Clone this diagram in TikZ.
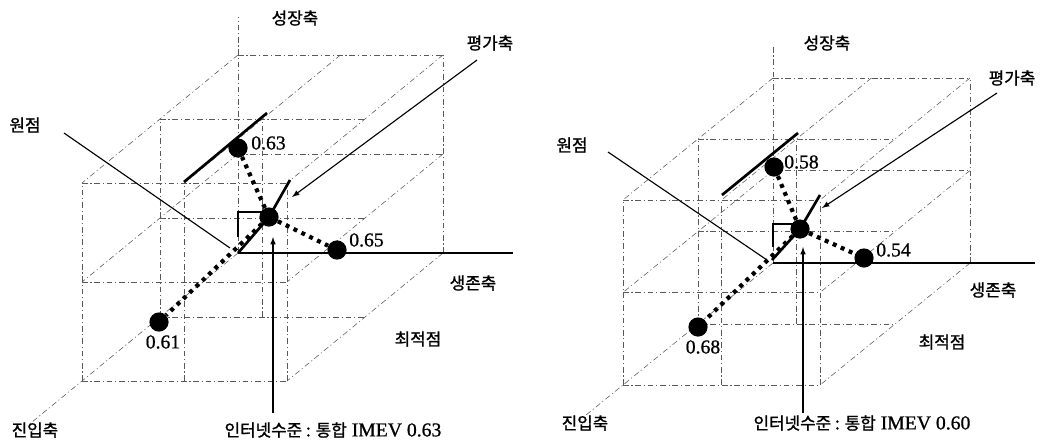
\documentclass[tikz,border=0pt]{standalone}
\usepackage{fontspec}
\setmainfont{Liberation Serif}
\newfontfamily\krfont[FakeBold=1.2]{Noto Sans CJK KR}
\newfontfamily\numfont[FakeBold=0.8]{Liberation Serif}
\tikzset{
  gridline/.style={line width=0.4pt, dash pattern=on 4pt off 2pt on 0.8pt off 2pt, color=black!65},
  axisline/.style={line width=0.9pt},
  thickline/.style={line width=1.9pt},
  dotline/.style={line width=3pt, dash pattern=on 2.8pt off 3.4pt},
  noteline/.style={line width=0.8pt},
  dotnode/.style={circle, fill=black, inner sep=0pt, minimum size=0.48cm},
  numlabel/.style={inner sep=0pt, font=\numfont\fontsize{14}{16}\selectfont},
  krlabel/.style={inner sep=0pt, font=\krfont\fontsize{12}{14}\selectfont},
  leftcube/.style={shift={(238,253)}, x={(5.125cm,0cm)}, y={(0cm,4.95cm)}, z={(-3.9cm,-3.2cm)}},
  rightcube/.style={shift={(773,263)}, x={(4.925cm,0cm)}, y={(0cm,4.625cm)}, z={(-3.75cm,-3.05cm)}},
}
\newcommand{\cubegrid}[3]{%
  \foreach \gy in {0,0.5,1}
    \foreach \gz in {0,0.5,1}
      \draw[gridline] (0,\gy,\gz) -- (1,\gy,\gz);
  \foreach \gx/\gz in {1/0,0/0.5,0.5/0.5,0/1,0.5/1,1/1}
    \draw[gridline] (\gx,0,\gz) -- (\gx,1,\gz);
  \foreach \gx/\gy in {1/0,0/0.5,1/0.5,0/1,0.5/1,1/1}
    \draw[gridline] (\gx,\gy,0) -- (\gx,\gy,1);
  \draw[gridline] (0,0,0) -- (0,#1,0);
  \draw[gridline] (0,0,0) -- (0,0,#3);
  \draw[axisline] (0,0,0) -- (#2,0,0);
}
\begin{document}
\begin{tikzpicture}[x=0.025cm,y=-0.025cm]
	\useasboundingbox (0,0) rectangle (1046,443);

	% left cube
	\begin{scope}[leftcube]
		\cubegrid{1.19}{1.34}{1.35}
	\end{scope}

	\node[dotnode] (Lg) at (238,148) {};
	\node[dotnode] (Lc) at (269,217) {};
	\node[dotnode] (Ls) at (337,250) {};
	\node[dotnode] (Le) at (159,322) {};
	\coordinate (LO) at (238,253);
	\coordinate (Lopt) at (290,180);
	\coordinate (Lga) at (184,182);
	\coordinate (Lgb) at (267,113);

	\node[krlabel] (Lgrow) at (295,18) {성장축};
	\node[krlabel] (Leval) at (490,43) {평가축};
	\node[krlabel] (Lorig) at (25,125) {원점};
	\node[krlabel] (Lsurv) at (473,283) {생존축};
	\node[krlabel] (Lbest) at (418,339) {최적점};
	\node[krlabel] (Lentry) at (35,430) {진입축};
	\node[numlabel,anchor=west] (Lgv) at (251,143) {0.63};
	\node[numlabel,anchor=west] (Lsv) at (349,240) {0.65};
	\node[numlabel] (Lev) at (163,342) {0.61};
	\node[numlabel] (Linet) at (333,430) {{\krfont\fontsize{12}{14}\selectfont 인터넷수준 : 통합} IMEV 0.63};

	\draw[thickline] (Lga) -- (Lgb);
	\draw[thickline] (LO) -- (Lc.center) -- (Lopt);
	\draw[dotline] (Lc) -- (Lg);
	\draw[dotline] (Lc) -- (Ls);
	\draw[dotline] (Lc) -- (Le);
	\draw[noteline] (267,212) -- (238,212) -- (238,237);

	\coordinate (Lorigs) at (64,133);
	\coordinate (Lorige) at (230,248);
	\coordinate (Levals) at (477,60);
	\coordinate (Levale) at (292,197);
	\coordinate (Linets) at (273,413);
	\coordinate (Linete) at (273,237);
	\draw[noteline] (Lorigs) -- (Lorige);
	\draw[noteline,->,>=latex] (Levals) -- (Levale);
	\draw[noteline,->,>=latex] (Linets) -- (Linete);

	% right cube
	\begin{scope}[rightcube]
		\cubegrid{1.18}{1.33}{1.29}
	\end{scope}

	\node[dotnode] (Rg) at (774,167) {};
	\node[dotnode] (Rc) at (800,229) {};
	\node[dotnode] (Rs) at (864,258) {};
	\node[dotnode] (Re) at (698,327) {};
	\coordinate (RO) at (772,260);
	\coordinate (Ropt) at (820,195);
	\coordinate (Rga) at (722,195);
	\coordinate (Rgb) at (798,133);

	\node[krlabel] (Rgrow) at (827,43) {성장축};
	\node[krlabel] (Reval) at (1012,78) {평가축};
	\node[krlabel] (Rorig) at (572,145) {원점};
	\node[krlabel] (Rsurv) at (993,290) {생존축};
	\node[krlabel] (Rbest) at (942,342) {최적점};
	\node[krlabel] (Rentry) at (585,423) {진입축};
	\node[numlabel,anchor=west] (Rgv) at (784,162) {0.58};
	\node[numlabel,anchor=west] (Rsv) at (876,250) {0.54};
	\node[numlabel] (Rev) at (703,347) {0.68};
	\node[numlabel] (Rinet) at (862,423) {{\krfont\fontsize{12}{14}\selectfont 인터넷수준 : 통합} IMEV 0.60};

	\draw[thickline] (Rga) -- (Rgb);
	\draw[thickline] (RO) -- (Rc.center) -- (Ropt);
	\draw[dotline] (Rc) -- (Rg);
	\draw[dotline] (Rc) -- (Rs);
	\draw[dotline] (Rc) -- (Re);
	\draw[noteline] (800,224) -- (773,224) -- (773,247);

	\coordinate (Rorigs) at (608,152);
	\coordinate (Rorige) at (767,260);
	\coordinate (Revals) at (997,93);
	\coordinate (Revale) at (822,208);
	\coordinate (Rinets) at (803,413);
	\coordinate (Rinete) at (803,247);
	\draw[noteline] (Rorigs) -- (Rorige);
	\draw[noteline,->,>=latex] (Revals) -- (Revale);
	\draw[noteline,->,>=latex] (Rinets) -- (Rinete);
\end{tikzpicture}
\end{document}
